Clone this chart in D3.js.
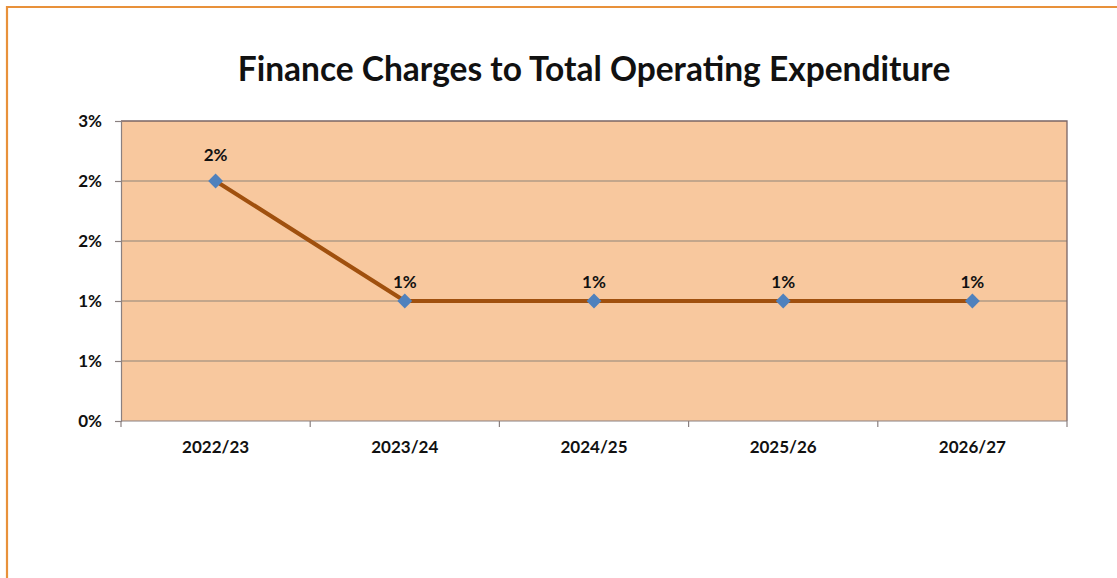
<!DOCTYPE html>
<html>
<head>
<meta charset="utf-8">
<script src="https://cdn.jsdelivr.net/npm/d3@7"></script>
<style>
  html, body { margin: 0; padding: 0; background: #ffffff; }
  svg { display: block; }
  text { font-family: Lato, "Open Sans", "Liberation Sans", sans-serif; font-weight: bold; fill: #111; }
</style>
</head>
<body>
<svg id="chart" width="1117" height="578"></svg>
<script>
// Financial years and the finance-charge ratio for each
const years = ["2022/23", "2023/24", "2024/25", "2025/26", "2026/27"];
const ratios = [0.02, 0.01, 0.01, 0.01, 0.01];
const dataLabels = ["2%", "1%", "1%", "1%", "1%"];
const yTicks = [0, 0.005, 0.01, 0.015, 0.02, 0.025];
const title = "Finance Charges to Total Operating Expenditure";

const svg = d3.select("#chart");
const W = 1117, H = 578;
const plot = { left: 121, right: 1067, top: 121, bottom: 421 };
const labelSize = 17;

// outer frame: orange rule on the top and left edges
svg.append("line").attr("x1", 7).attr("x2", W).attr("y1", 7).attr("y2", 7)
  .attr("stroke", "#E8913A").attr("stroke-width", 2.2);
svg.append("line").attr("x1", 7).attr("x2", 7).attr("y1", 6).attr("y2", H)
  .attr("stroke", "#E8913A").attr("stroke-width", 2.2);

const x = d3.scaleBand().domain(years).range([plot.left, plot.right]);
const y = d3.scaleLinear().domain([0, 0.025]).range([plot.bottom, plot.top]);

// plot background
svg.append("rect")
  .attr("x", plot.left).attr("y", plot.top)
  .attr("width", plot.right - plot.left).attr("height", plot.bottom - plot.top)
  .attr("fill", "#F8C89E");

// horizontal gridlines
svg.append("g").selectAll("line").data(yTicks.filter(t => t > 0 && t < 0.025)).join("line")
  .attr("x1", plot.left).attr("x2", plot.right)
  .attr("y1", d => y(d)).attr("y2", d => y(d))
  .attr("stroke", "#8E8478").attr("stroke-width", 1.2);

// plot border (top and right)
svg.append("path")
  .attr("d", `M${plot.left},${plot.top}H${plot.right}V${plot.bottom}`)
  .attr("fill", "none").attr("stroke", "#7A6566").attr("stroke-width", 1.3);

// y axis
const yAxis = d3.axisLeft(y).tickValues(yTicks)
  .tickFormat(d => Math.round(d * 100 + 1e-9) + "%")
  .tickSize(6).tickPadding(13);
const gy = svg.append("g").attr("transform", `translate(${plot.left},0)`).call(yAxis);
gy.select(".domain").attr("stroke", "#8A8080").attr("stroke-width", 1.2);
gy.selectAll(".tick line").attr("stroke", "#8A8080").attr("stroke-width", 1.2);
gy.selectAll(".tick text").attr("font-size", labelSize).attr("fill", "#111")
  .style("font-family", "Lato, 'Open Sans', sans-serif").style("font-weight", "bold");

// x axis with ticks at category boundaries
const gx = svg.append("g").attr("transform", `translate(0,${plot.bottom})`);
gx.append("line").attr("x1", plot.left).attr("x2", plot.right)
  .attr("stroke", "#8A8080").attr("stroke-width", 1.2);
const bounds = years.map(d => x(d)).concat([x(years[years.length - 1]) + x.bandwidth()]);
gx.selectAll("line.tk").data(bounds).join("line").attr("class", "tk")
  .attr("x1", d => d).attr("x2", d => d).attr("y1", 0).attr("y2", 6)
  .attr("stroke", "#8A8080").attr("stroke-width", 1.2);
gx.selectAll("text").data(years).join("text")
  .attr("x", d => x(d) + x.bandwidth() / 2).attr("y", 32)
  .attr("text-anchor", "middle").attr("font-size", labelSize)
  .text(d => d);

// series line
const pts = years.map((yr, i) => ({ yr, v: ratios[i], label: dataLabels[i] }));
const line = d3.line().x(d => x(d.yr) + x.bandwidth() / 2).y(d => y(d.v));
svg.append("path").datum(pts).attr("d", line)
  .attr("fill", "none").attr("stroke", "#A0500E").attr("stroke-width", 4.2)
  .attr("stroke-linejoin", "round");

// diamond markers
svg.append("g").selectAll("path").data(pts).join("path")
  .attr("d", d3.symbol().type(d3.symbolDiamond2).size(140))
  .attr("transform", d => `translate(${x(d.yr) + x.bandwidth() / 2},${y(d.v)})`)
  .attr("fill", "#4F81BD");

// value labels above the markers
svg.append("g").selectAll("text").data(pts).join("text")
  .attr("x", d => x(d.yr) + x.bandwidth() / 2)
  .attr("y", (d, i) => y(d.v) - (i === 0 ? 20 : 13))
  .attr("text-anchor", "middle").attr("font-size", labelSize)
  .text(d => d.label);

// title
svg.append("text")
  .attr("x", (plot.left + plot.right) / 2).attr("y", 81)
  .attr("text-anchor", "middle").attr("font-size", 33.5)
  .text(title);
</script>
</body>
</html>
